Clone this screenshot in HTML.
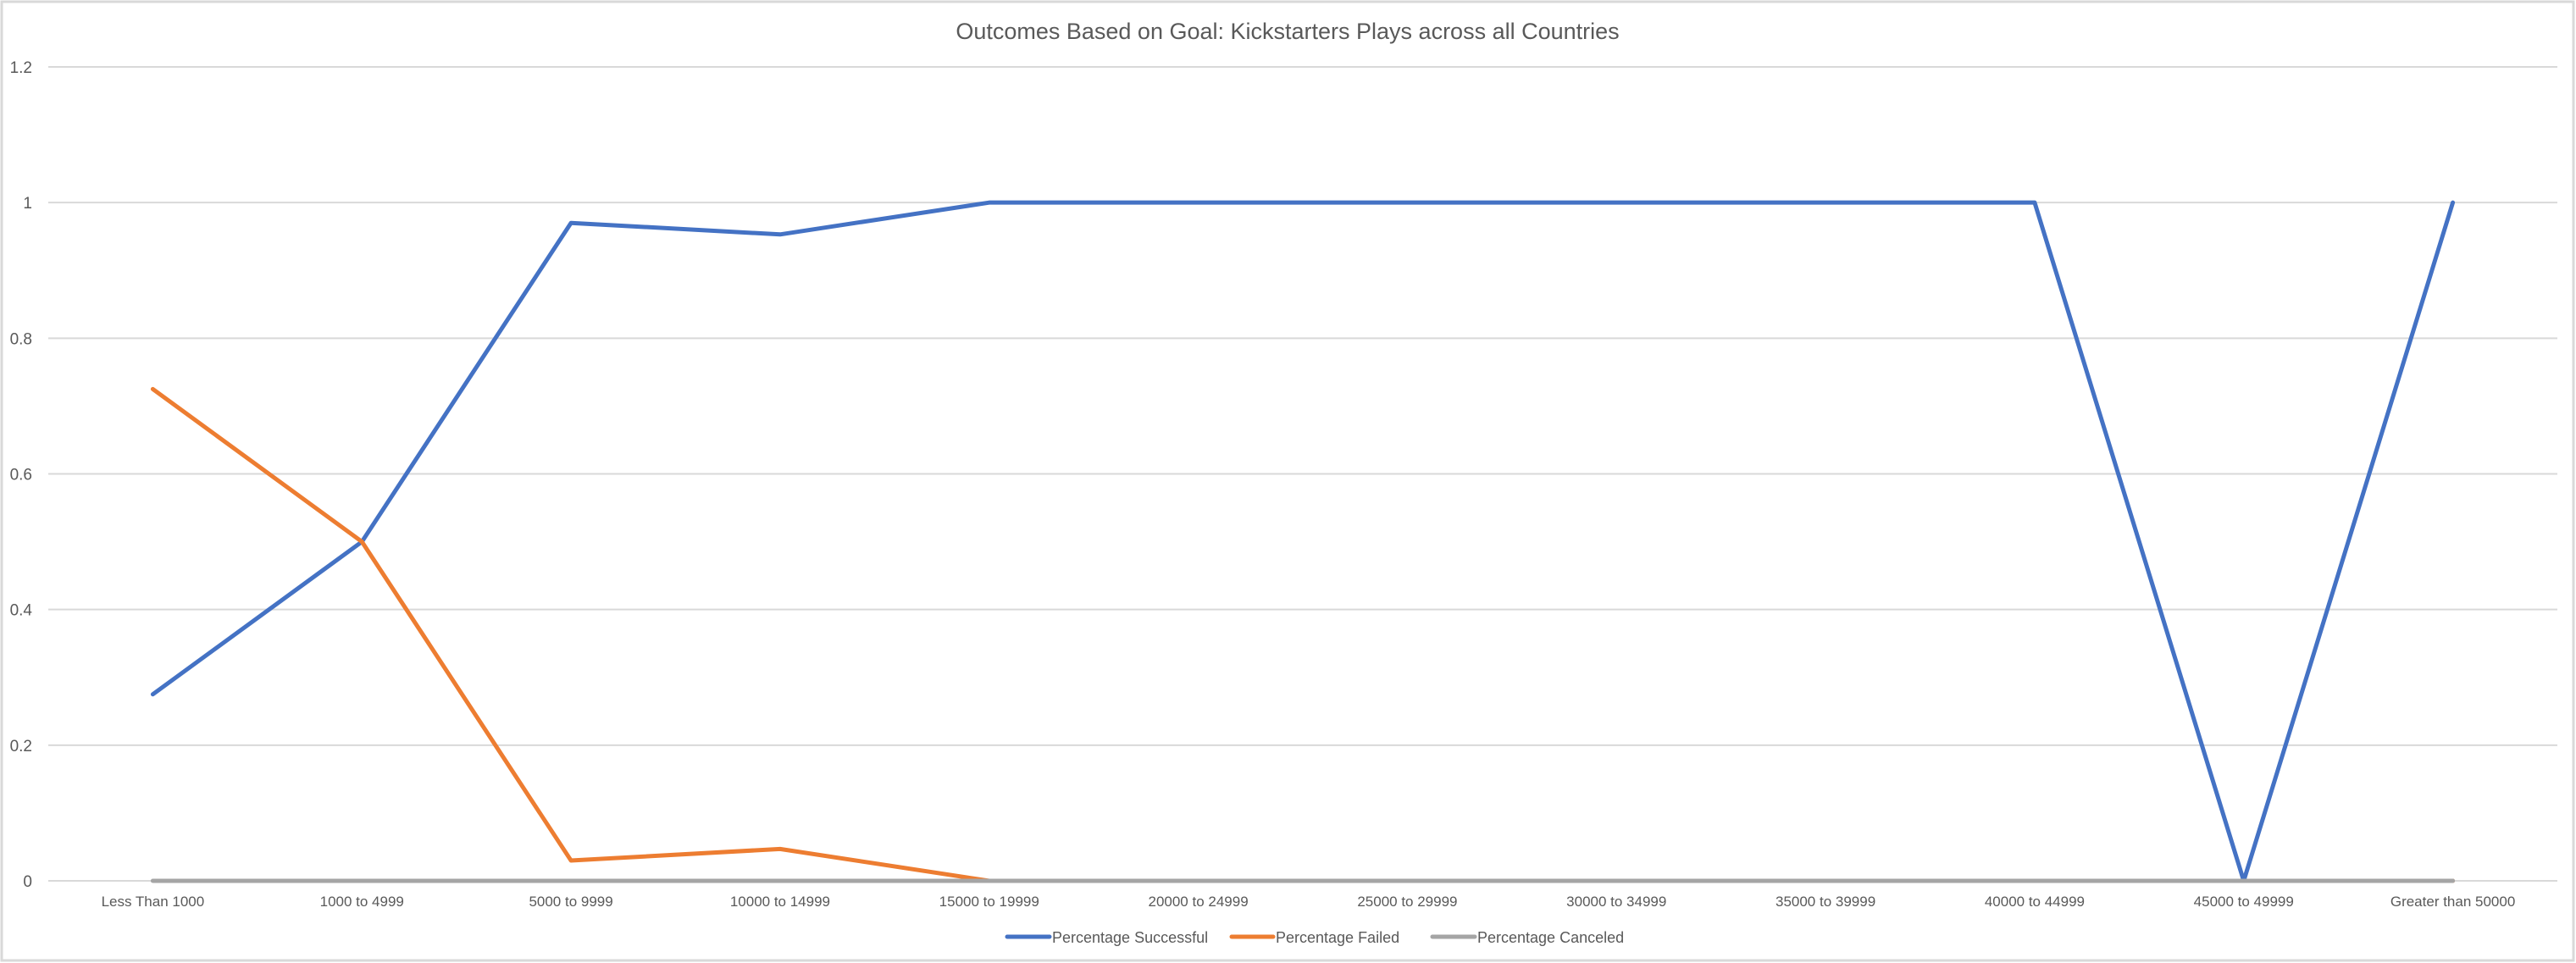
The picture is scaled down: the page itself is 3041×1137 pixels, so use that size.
<!DOCTYPE html>
<html><head><meta charset="utf-8"><style>
html,body{margin:0;padding:0;background:#fff;}
svg{display:block;font-family:"Liberation Sans",sans-serif;}
</style></head><body>
<svg id="chart" width="3041" height="1137" viewBox="0 0 3041 1137" xmlns="http://www.w3.org/2000/svg">
<rect x="2" y="2" width="3036" height="1132" fill="#fff" stroke="#d9d9d9" stroke-width="3"/>
<text x="1520" y="46" text-anchor="middle" font-size="27" fill="#595959">Outcomes Based on Goal: Kickstarters Plays across all Countries</text>
<g id="grid"></g><g id="yticks"></g><g id="xticks"></g><g id="series"></g>
<g>
<line x1="1189" y1="1106" x2="1239" y2="1106" stroke="#4472c4" stroke-width="5" stroke-linecap="round"/>
<text x="1242" y="1113" font-size="18" fill="#595959">Percentage Successful</text>
<line x1="1454" y1="1106" x2="1503" y2="1106" stroke="#ed7d31" stroke-width="5" stroke-linecap="round"/>
<text x="1506" y="1113" font-size="18" fill="#595959">Percentage Failed</text>
<line x1="1691" y1="1106" x2="1741" y2="1106" stroke="#a5a5a5" stroke-width="5" stroke-linecap="round"/>
<text x="1744" y="1113" font-size="18" fill="#595959">Percentage Canceled</text>
</g>
</svg>
<script>
const categories=["Less Than 1000","1000 to 4999","5000 to 9999","10000 to 14999","15000 to 19999","20000 to 24999","25000 to 29999","30000 to 34999","35000 to 39999","40000 to 44999","45000 to 49999","Greater than 50000"];
const successful=[0.275,0.5,0.97,0.953,1,1,1,1,1,1,0,1];
const failed=[0.725,0.5,0.03,0.047,0,0,0,0,0,0,0,0];
const canceled=[0,0,0,0,0,0,0,0,0,0,0,0];
const yTicks=["0","0.2","0.4","0.6","0.8","1","1.2"];
const NS="http://www.w3.org/2000/svg";
const L=57,R=3019,T=79,B=1040,YMAX=1.2;
const band=(R-L)/categories.length;
const xs=i=>L+band*(i+0.5);
const ys=v=>B-(v/YMAX)*(B-T);
function mk(tag,attrs,parent){const e=document.createElementNS(NS,tag);for(const k in attrs)e.setAttribute(k,attrs[k]);document.getElementById(parent).appendChild(e);return e;}
yTicks.forEach(t=>{const v=parseFloat(t);
 const g=mk('line',{x1:L,x2:R,y1:ys(v),y2:ys(v),stroke:'#d9d9d9','stroke-width':2},'grid');
 
 
 const tx=mk('text',{x:38,y:ys(v)+7,'text-anchor':'end','font-size':19,fill:'#595959'},'yticks');tx.textContent=t;
 
 
});
categories.forEach((c,i)=>{
 const tx=mk('text',{x:xs(i),y:1070,'text-anchor':'middle','font-size':17,fill:'#595959'},'xticks');tx.textContent=c;
 
 
});
[[successful,'#4472c4','series-successful'],[failed,'#ed7d31','series-failed'],[canceled,'#a5a5a5','series-canceled']].forEach(([d,col,name])=>{
 const p=mk('polyline',{points:d.map((v,i)=>xs(i)+','+ys(v)).join(' '),fill:'none',stroke:col,'stroke-width':5,'stroke-linejoin':'round','stroke-linecap':'round'},'series');
 
 
});
</script>
</body></html>
